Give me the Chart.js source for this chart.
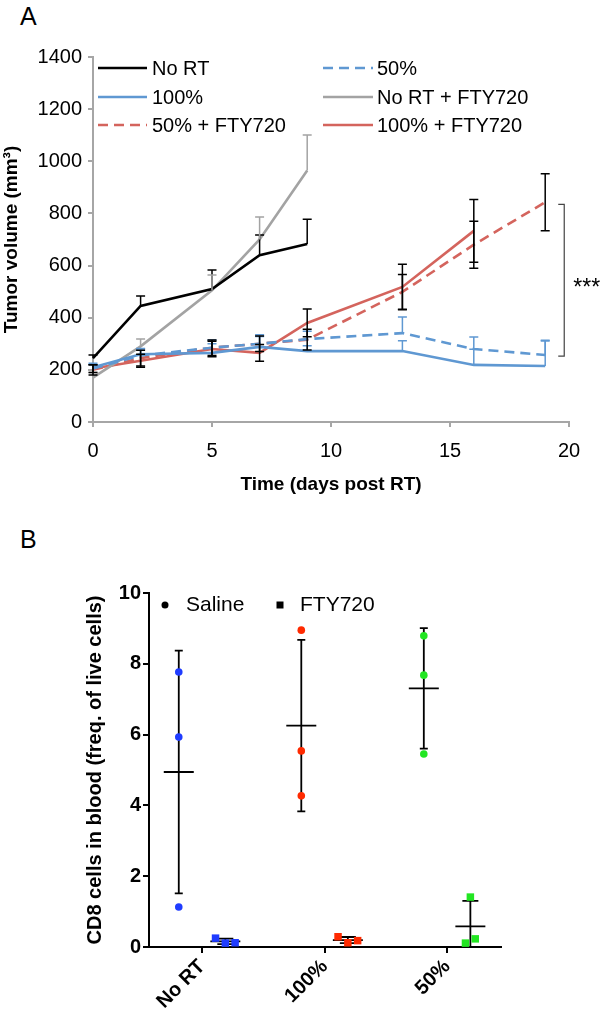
<!DOCTYPE html>
<html><head><meta charset="utf-8">
<script src="https://cdn.jsdelivr.net/npm/chart.js@4"></script>
<style>
html,body{margin:0;padding:0;background:#fff;}
#wrap{position:relative;width:602px;height:1020px;overflow:hidden;font-family:"Liberation Sans",Arial,sans-serif;}
.lbl{position:absolute;font-size:25px;line-height:1;color:#000;}
#ca{position:absolute;left:0;top:0;width:602px;height:510px;}
#cb{position:absolute;left:0;top:510px;width:602px;height:510px;}
</style></head><body>
<div id="wrap">
<div class="lbl" style="left:20px;top:4px">A</div>
<div class="lbl" style="left:20px;top:527px">B</div>
<div id="ca"><canvas id="chartA"></canvas></div>
<div id="cb"><canvas id="chartB"></canvas></div>
</div>
<script>
// ---------- Panel A data ----------
const daysA = [0, 2, 5, 7, 9, 13, 16, 19];
const noRT = [245, 445, 510, 640, 683];
const noRTErr = [12, 38, 73, 77, 95];
const pct50 = [205, 255, 285, 300, 318, 341, 280, 257];
const pct50Err = [15, 25, 30, 35, 30, 62, 46, 57];
const pct100 = [210, 260, 265, 288, 272, 272, 219, 215];
const pct100Err = [15, 22, 35, 40, 20, 40, 60, 96];
const noRTFty = [170, 290, 505, 700, 965];
const noRTFtyErr = [20, 28, 59, 86, 136];
const pct50Fty = [200, 245, 285, 300, 316, 499, 680, 843];
const pct50FtyErr = [20, 30, 30, 30, 40, 67, 90, 109];
const pct100Fty = [205, 235, 280, 265, 380, 518, 733];
const pct100FtyErr = [15, 25, 30, 32, 53, 87, 120];
const yTicksA = [0, 200, 400, 600, 800, 1000, 1200, 1400];
const xTicksA = [0, 5, 10, 15, 20];

// ---------- Panel B data ----------
const groupsB = ['No RT', '100%', '50%'];
const salineNoRT = [7.77, 5.93, 1.13];
const saline100 = [8.95, 5.54, 4.27];
const saline50 = [8.79, 7.68, 5.45];
const ftyNoRT = [0.25, 0.11, 0.12];
const fty100 = [0.29, 0.12, 0.18];
const fty50 = [0.11, 1.41, 0.23];
const yTicksB = [0, 2, 4, 6, 8, 10];

// jitter offsets (horizontal placement within a group)
const salineJit = [-0.19, -0.19, -0.19];
const ftyJitNoRT = [0.11, 0.19, 0.27];
const ftyJit100 = [0.11, 0.19, 0.27];
const ftyJit50 = [0.15, 0.19, 0.23];

const FONT = '"Liberation Sans", Arial, sans-serif';
Chart.defaults.font.family = FONT;
Chart.defaults.color = '#000';

const BLUE = '#5f98d2', RED = '#d4645d', GRAY = '#a3a3a3', BLACK = '#000';
const pts = (vals) => vals.map((v, i) => ({x: daysA[i], y: v}));

function lineDs(label, vals, errs, color, dash, errColor, twoSided) {
  return {label, data: pts(vals), errors: errs, errColor, twoSided,
    borderColor: color, backgroundColor: color, borderWidth: 2.6,
    borderDash: dash, pointRadius: 0, tension: 0, fill: false};
}

const legendA = {
  id: 'legendA',
  afterDraw(chart) {
    const ctx = chart.ctx;
    const cols = [[98, 147, 152], [323, 373, 377]];
    const rows = [68, 97, 125];
    chart.data.datasets.forEach((ds, i) => {
      const c = cols[i % 2], y = rows[Math.floor(i / 2)];
      ctx.save();
      ctx.strokeStyle = ds.borderColor; ctx.lineWidth = 2.6;
      ctx.setLineDash(ds.borderDash || []);
      ctx.beginPath(); ctx.moveTo(c[0], y); ctx.lineTo(c[1], y); ctx.stroke();
      ctx.setLineDash([]);
      ctx.fillStyle = '#000'; ctx.font = '20px ' + FONT; ctx.textBaseline = 'middle';
      ctx.fillText(ds.label, c[2], y + 1);
      ctx.restore();
    });
  }
};

const errA = {
  id: 'errA',
  afterDatasetsDraw(chart) {
    const {ctx, scales: {x, y}} = chart;
    chart.data.datasets.forEach(ds => {
      ctx.save();
      ctx.strokeStyle = ds.errColor; ctx.lineWidth = 1.5;
      ds.data.forEach((p, j) => {
        const e = ds.errors[j];
        const px = x.getPixelForValue(p.x);
        const top = y.getPixelForValue(p.y + e);
        const bot = y.getPixelForValue(ds.twoSided ? p.y - e : p.y);
        ctx.beginPath();
        ctx.moveTo(px, top); ctx.lineTo(px, bot);
        ctx.moveTo(px - 4.5, top); ctx.lineTo(px + 4.5, top);
        if (ds.twoSided) { ctx.moveTo(px - 4.5, bot); ctx.lineTo(px + 4.5, bot); }
        ctx.stroke();
      });
      ctx.restore();
    });
    // significance bracket between final 50%+FTY720 and final 50%
    const bx = x.getPixelForValue(19.8);
    const yt = y.getPixelForValue(pct50Fty[pct50Fty.length - 1] - 8);
    const yb = y.getPixelForValue(pct50[pct50.length - 1] - 4);
    ctx.save();
    ctx.strokeStyle = '#444'; ctx.lineWidth = 1.2;
    ctx.beginPath();
    ctx.moveTo(bx - 6, yt); ctx.lineTo(bx, yt); ctx.lineTo(bx, yb); ctx.lineTo(bx - 6, yb);
    ctx.stroke();
    ctx.fillStyle = '#000'; ctx.font = '23px ' + FONT; ctx.textBaseline = 'middle';
    ctx.fillText('***', bx + 9, (yt + yb) / 2 + 8);
    ctx.restore();
  }
};

new Chart(document.getElementById('chartA'), {
  type: 'line',
  data: {
    datasets: [
      lineDs('No RT', noRT, noRTErr, BLACK, [], BLACK, false),
      lineDs('50%', pct50, pct50Err, BLUE, [10, 6], BLUE, false),
      lineDs('100%', pct100, pct100Err, BLUE, [], BLUE, false),
      lineDs('No RT + FTY720', noRTFty, noRTFtyErr, GRAY, [], GRAY, false),
      lineDs('50% + FTY720', pct50Fty, pct50FtyErr, RED, [10, 6], BLACK, true),
      lineDs('100% + FTY720', pct100Fty, pct100FtyErr, RED, [], BLACK, true)
    ]
  },
  options: {
    responsive: true, maintainAspectRatio: false, animation: false,
    layout: {padding: {top: 57, right: 33, bottom: 10, left: 0}},
    plugins: {legend: {display: false}, tooltip: {enabled: false}},
    scales: {
      x: {
        type: 'linear', min: 0, max: 20,
        afterFit(s) { s.height = 78; },
        afterBuildTicks(s) { s.ticks = xTicksA.map(v => ({value: v})); },
        ticks: {font: {size: 20}, color: '#000', padding: 12, callback: v => String(v)},
        grid: {drawOnChartArea: false, tickLength: 5, color: '#a6a6a6', lineWidth: 2},
        border: {color: '#a6a6a6', width: 2},
        title: {display: true, text: 'Time (days post RT)', color: '#000',
          font: {size: 19, weight: 'bold'}, padding: {top: 0, bottom: 4}}
      },
      y: {
        min: 0, max: 1400,
        afterFit(s) { s.width = 93; },
        afterBuildTicks(s) { s.ticks = yTicksA.map(v => ({value: v})); },
        ticks: {font: {size: 20}, color: '#000', padding: 6, callback: v => String(v)},
        grid: {drawOnChartArea: false, tickLength: 5, color: '#a6a6a6', lineWidth: 2},
        border: {color: '#a6a6a6', width: 2},
        title: {display: true, text: 'Tumor volume (mm³)', color: '#000',
          font: {size: 19, weight: 'bold'}, padding: {top: 0, bottom: 0}}
      }
    }
  },
  plugins: [legendA, errA]
});

// ---------- Panel B ----------
const CB = '#1f3cff', CR = '#ff2a00', CG = '#22e622';
function scat(label, g, vals, jit, color, style, r) {
  return {label, group: g, data: vals.map((v, k) => ({x: g + jit[k], y: v})),
    pointStyle: style, pointRadius: r, pointHoverRadius: r,
    backgroundColor: color, borderColor: color, borderWidth: 0, showLine: false,
    capHalf: style === 'circle' ? 4 : 8};
}

const statsB = {
  id: 'statsB',
  beforeDatasetsDraw(chart) {
    const {ctx, scales: {x, y}} = chart;
    ctx.save();
    ctx.strokeStyle = '#000'; ctx.lineWidth = 1.8;
    chart.data.datasets.forEach(ds => {
      const vals = ds.data.map(p => p.y);
      const n = vals.length;
      const m = vals.reduce((a, b) => a + b, 0) / n;
      const sd = Math.sqrt(vals.reduce((a, b) => a + (b - m) * (b - m), 0) / (n - 1));
      const cx = x.getPixelForValue(ds.group + (ds.pointStyle === 'circle' ? -0.19 : 0.19));
      const ym = y.getPixelForValue(m), yt = y.getPixelForValue(m + sd), yb = y.getPixelForValue(Math.max(0, m - sd));
      ctx.beginPath();
      ctx.moveTo(cx, yt); ctx.lineTo(cx, yb);
      ctx.moveTo(cx - ds.capHalf, yt); ctx.lineTo(cx + ds.capHalf, yt);
      ctx.moveTo(cx - ds.capHalf, yb); ctx.lineTo(cx + ds.capHalf, yb);
      ctx.moveTo(cx - 15, ym); ctx.lineTo(cx + 15, ym);
      ctx.stroke();
    });
    ctx.restore();
  },
  afterDraw(chart) {
    const ctx = chart.ctx;
    ctx.save();
    ctx.fillStyle = '#000';
    ctx.beginPath(); ctx.arc(165, 95, 3.5, 0, Math.PI * 2); ctx.fill();
    ctx.fillRect(276.5, 91.5, 7, 7);
    ctx.font = '21px ' + FONT; ctx.textBaseline = 'middle';
    ctx.fillText('Saline', 186, 95);
    ctx.fillText('FTY720', 300, 95);
    ctx.restore();
  }
};

new Chart(document.getElementById('chartB'), {
  type: 'scatter',
  data: {
    datasets: [
      scat('Saline', 0, salineNoRT, salineJit, CB, 'circle', 3.8),
      scat('Saline', 1, saline100, salineJit, CR, 'circle', 3.8),
      scat('Saline', 2, saline50, salineJit, CG, 'circle', 3.8),
      scat('FTY720', 0, ftyNoRT, ftyJitNoRT, CB, 'rect', 5.3),
      scat('FTY720', 1, fty100, ftyJit100, CR, 'rect', 5.3),
      scat('FTY720', 2, fty50, ftyJit50, CG, 'rect', 5.3)
    ]
  },
  options: {
    responsive: true, maintainAspectRatio: false, animation: false,
    layout: {padding: {top: 83, right: 101, bottom: 0, left: 83}},
    plugins: {legend: {display: false}, tooltip: {enabled: false}},
    scales: {
      x: {
        type: 'linear', min: -0.433, max: 2.44,
        afterFit(s) { s.height = 73; },
        afterBuildTicks(s) { s.ticks = groupsB.map((g, i) => ({value: i})); },
        ticks: {autoSkip: false, minRotation: 45, maxRotation: 45, padding: 2,
          callback: (v) => groupsB[v], font: {size: 20, weight: 'bold'}, color: '#000'},
        grid: {drawOnChartArea: false, tickLength: 6, color: '#000', lineWidth: 2},
        border: {color: '#000', width: 2}
      },
      y: {
        min: 0, max: 10,
        afterFit(s) { s.width = 66; },
        afterBuildTicks(s) { s.ticks = yTicksB.map(v => ({value: v})); },
        ticks: {font: {size: 20, weight: 'bold'}, color: '#000', padding: 2, callback: v => String(v)},
        grid: {drawOnChartArea: false, tickLength: 6, color: '#000', lineWidth: 2},
        border: {color: '#000', width: 2},
        title: {display: true, text: 'CD8 cells in blood (freq. of live cells)', color: '#000',
          font: {size: 20, weight: 'bold'}, padding: {top: 0, bottom: 0}}
      }
    }
  },
  plugins: [statsB]
});
</script>
</body></html>
